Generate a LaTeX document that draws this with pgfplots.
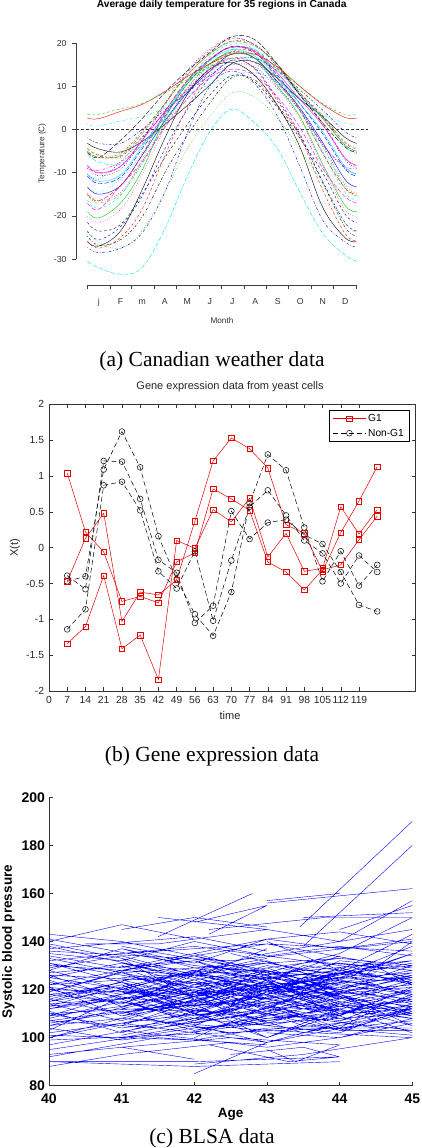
\documentclass[border=0pt]{standalone}
\usepackage{pgfplots}
\pgfplotsset{compat=1.18}
\usepackage{pgfplotstable}
\usepackage{fontspec}
\setmainfont{Liberation Sans}
\newfontfamily\capfont{Liberation Serif}
\newcommand\fs[1]{\fontsize{#1bp}{#1bp}\selectfont}
\definecolor{c0}{RGB}{0,0,0}
\definecolor{c1}{RGB}{255,0,0}
\definecolor{c2}{RGB}{0,205,0}
\definecolor{c3}{RGB}{0,0,255}
\definecolor{c4}{RGB}{0,230,230}
\definecolor{c5}{RGB}{255,0,255}
\tikzset{
 l1/.style={solid},
 l2/.style={dash pattern=on 2.5bp off 2.5bp},
 l3/.style={dash pattern=on 0.7bp off 1.8bp},
 l4/.style={dash pattern=on 0.7bp off 1.8bp on 2.5bp off 1.8bp},
 l5/.style={dash pattern=on 4.5bp off 2bp}}

\pgfplotstableread{
name 0 15 45 74 105 135 166 196 227 258 288 319 349 365
s1 -3.2 -4.5 -5.2 -2.8 1.2 5.5 10.3 15.3 15.6 11.8 7.0 3.0 -1.8 -3.2
s2 -4.5 -6.0 -6.2 -1.8 3.8 9.0 14.0 18.0 18.0 14.0 8.5 3.2 -3.0 -4.5
s3 -4.3 -5.8 -6.5 -3.0 1.5 7.0 12.8 17.5 17.5 13.5 8.0 2.8 -2.8 -4.3
s4 -1.9 -3.2 -3.2 0.0 4.5 8.5 12.5 16.0 16.5 13.5 9.2 4.5 -0.5 -1.9
s5 -5.7 -7.5 -8.0 -3.5 1.8 8.5 14.5 18.5 18.5 13.8 8.0 2.5 -3.8 -5.7
s6 -8.3 -10.0 -8.5 -2.5 4.2 11.0 16.2 19.2 18.2 13.0 7.0 1.0 -6.5 -8.3
s7 -21.5 -23.5 -22.0 -15.0 -6.5 1.0 8.0 12.5 11.0 5.0 -2.0 -10.0 -19.5 -21.5
s8 -14.7 -16.5 -14.5 -7.5 1.5 9.5 15.0 18.0 16.5 11.0 4.5 -3.5 -12.8 -14.7
s9 -15.3 -17.0 -15.0 -8.0 1.0 9.5 15.2 18.0 16.5 10.8 4.3 -4.0 -13.5 -15.3
s10 -10.8 -12.5 -11.0 -4.5 3.0 10.5 16.0 19.2 17.7 12.5 6.0 -1.0 -9.0 -10.8
s11 -10.3 -12.0 -10.5 -4.0 3.5 11.0 16.0 18.5 17.0 12.0 6.0 -0.5 -8.5 -10.3
s12 -8.4 -10.2 -8.6 -2.5 5.7 13.0 18.2 21.0 19.6 14.6 8.1 1.6 -6.6 -8.4
s13 -8.9 -10.7 -9.2 -2.6 6.0 13.5 18.6 21.2 19.6 14.5 8.0 1.2 -7.0 -8.9
s14 -5.0 -6.5 -5.5 -0.5 6.0 12.5 17.5 20.5 19.6 15.0 8.5 2.8 -3.5 -5.0
s15 -5.0 -6.5 -6.0 -1.0 6.0 12.5 17.5 20.3 19.3 15.0 8.5 2.5 -3.5 -5.0
s16 -13.3 -15.0 -13.0 -6.0 2.0 8.5 13.5 17.5 16.5 11.0 5.0 -3.0 -11.5 -13.3
s17 -16.4 -18.3 -15.2 -7.0 3.6 11.3 16.9 19.8 18.5 12.2 5.0 -5.2 -14.5 -16.4
s18 -20.0 -21.5 -18.5 -10.5 0.5 8.5 15.0 18.0 16.5 9.5 2.5 -8.5 -18.5 -20.0
s19 -24.7 -26.8 -25.5 -20.3 -10.0 -1.5 6.1 12.0 11.5 5.5 -1.5 -12.3 -22.5 -24.7
s20 -15.0 -16.5 -13.0 -6.0 4.0 11.3 16.3 19.0 18.0 11.7 4.5 -5.5 -13.5 -15.0
s21 -19.0 -20.5 -17.0 -9.5 2.5 10.5 15.3 17.7 16.5 10.0 3.0 -8.0 -17.5 -19.0
s22 -23.5 -25.5 -22.5 -15.5 -4.5 4.5 12.0 16.0 14.2 7.0 -1.0 -12.0 -21.5 -23.5
s23 -13.5 -14.5 -11.5 -5.5 3.5 10.5 14.5 16.5 15.5 10.5 4.5 -5.0 -12.5 -13.5
s24 -9.0 -9.5 -7.5 -3.5 3.5 9.5 13.5 16.5 15.5 10.5 5.0 -3.5 -8.5 -9.0
s25 -5.3 -6.5 -2.5 2.5 8.5 13.5 17.8 21.5 20.8 15.0 8.0 1.5 -4.0 -5.3
s26 2.6 2.5 4.2 5.8 8.8 12.2 15.2 17.4 17.4 14.4 10.0 5.8 2.8 2.6
s27 3.5 3.5 4.8 6.0 8.5 11.5 14.5 16.5 16.5 14.0 10.0 6.0 3.5 3.5
s28 -10.3 -11.5 -7.5 -2.0 4.0 9.0 12.5 15.0 14.5 9.5 4.5 -3.5 -9.0 -10.3
s29 1.2 0.8 2.0 3.0 5.0 8.0 10.5 12.5 13.2 11.0 7.5 3.5 1.5 1.2
s30 -17.0 -18.5 -13.0 -7.5 0.5 7.0 12.0 14.0 12.5 7.5 0.5 -9.0 -15.5 -17.0
s31 -26.0 -27.0 -23.5 -14.0 -2.0 8.0 14.0 15.5 12.5 5.5 -4.0 -18.0 -25.0 -26.0
s32 -25.8 -27.5 -25.0 -18.5 -6.0 5.0 13.5 16.5 14.0 6.5 -1.5 -14.0 -24.0 -25.8
s33 -23.8 -26.0 -27.5 -23.5 -14.5 -4.5 3.0 8.5 7.5 2.5 -4.5 -12.5 -21.5 -23.8
s34 -27.3 -28.5 -27.5 -24.0 -14.5 -1.0 10.0 13.5 10.5 3.0 -8.5 -21.0 -26.0 -27.3
s35 -30.5 -32.0 -33.5 -32.0 -23.0 -11.0 -0.5 4.7 1.5 -4.5 -14.5 -24.0 -29.0 -30.5
}\canraw
\pgfplotstabletranspose[colnames from=name,input colnames to=day]{\canT}{\canraw}

\pgfplotstableread{
t r1 r2 r3
7 1.04 -0.47 -1.34
14 0.22 0.13 -1.10
21 -0.06 0.48 -0.39
28 -0.75 -1.03 -1.41
35 -0.68 -0.62 -1.22
42 -0.77 -0.66 -1.84
49 -0.20 -0.45 0.10
56 -0.07 0.37 -0.01
63 0.82 1.21 0.53
70 0.68 1.53 0.36
77 0.52 1.38 0.69
84 -0.20 1.11 -0.13
91 -0.34 0.32 0.20
98 -0.59 0.20 -0.33
105 -0.31 -0.33 -0.29
112 -0.24 0.21 0.57
119 0.11 0.65 0.19
126 0.44 1.13 0.53
}\gone

\pgfplotstableread{
t b1 b2 b3
7 -0.47 -0.39 -1.14
14 -0.40 -0.58 -0.86
21 1.09 1.21 0.87
28 1.62 1.20 0.92
35 1.12 0.68 0.52
42 0.16 -0.17 -0.33
49 -0.44 -0.35 -0.57
56 -0.93 -1.05 -0.05
63 -1.23 -0.81 -1.02
70 -0.62 0.51 -0.18
77 0.62 0.12 0.57
84 1.30 0.35 0.80
91 1.08 0.39 0.45
98 0.28 0.18 0.10
105 -0.47 0.05 -0.08
112 -0.05 -0.34 -0.50
119 -0.53 -0.80 -0.11
126 -0.24 -0.89 -0.34
}\nongone

\begin{document}
\begin{tikzpicture}
\path[use as bounding box] (0,0) rectangle (422bp,1148bp);

% ---------------- (a) Canadian weather ----------------
\begin{axis}[
 at={(76bp,863bp)}, anchor=south west, scale only axis,
 width=292bp, height=262.6bp,
 xmin=-15.5, xmax=380.5, ymin=-36, ymax=24.8,
 axis x line*=bottom, axis y line*=left,
 axis line style={draw=none},
 clip=false,
 tick align=outside, major tick length=4.5bp,
 tick style={black!75, line width=0.5bp},
 xtick={0,31,59,90,120,151,181,212,243,273,304,334,365},
 xticklabels={,,,,,,,,,,,,},
 extra x ticks={15.5,45,74.5,105,135.5,166,196.5,227.5,258,288.5,319,349.5},
 extra x tick labels={j,F,m,A,M,J,J,A,S,O,N,D},
 extra x tick style={major tick length=0pt, tick label style={yshift=-9.7bp, text height=6.5bp, text depth=2bp}},
 ytick={-30,-20,-10,0,10,20},
 yticklabels={-30,-20,-10,0,10,20},
 tick label style={font=\fs{8.7}, text=black!80},
 y tick label style={xshift=-1.5bp},
 title={Average daily temperature for 35 regions in Canada},
 title style={font=\fs{10.2}\bfseries, inner sep=0pt, at={(0.499,1.0355)}, anchor=base},
 xlabel={Month}, xlabel style={font=\fs{8.2}, text=black!80, at={(0.5,-0.1474)}, anchor=base},
 ylabel={Temperature (C)}, ylabel style={font=\fs{8.2}, text=black!80, at={(-0.1154,0.5015)}, anchor=center},
 every axis plot/.append style={smooth, tension=0.6, line width=0.4bp},
]
\addplot[c0,l1] table[x=day,y=s1]{\canT};
\addplot[c1,l2] table[x=day,y=s2]{\canT};
\addplot[c2,l3] table[x=day,y=s3]{\canT};
\addplot[c3,l4] table[x=day,y=s4]{\canT};
\addplot[c4,l5] table[x=day,y=s5]{\canT};
\addplot[c5,l1] table[x=day,y=s6]{\canT};
\addplot[c0,l2] table[x=day,y=s7]{\canT};
\addplot[c1,l3] table[x=day,y=s8]{\canT};
\addplot[c2,l4] table[x=day,y=s9]{\canT};
\addplot[c3,l5] table[x=day,y=s10]{\canT};
\addplot[c4,l1] table[x=day,y=s11]{\canT};
\addplot[c5,l2] table[x=day,y=s12]{\canT};
\addplot[c0,l3] table[x=day,y=s13]{\canT};
\addplot[c1,l4] table[x=day,y=s14]{\canT};
\addplot[c2,l5] table[x=day,y=s15]{\canT};
\addplot[c3,l1] table[x=day,y=s16]{\canT};
\addplot[c4,l2] table[x=day,y=s17]{\canT};
\addplot[c5,l3] table[x=day,y=s18]{\canT};
\addplot[c0,l4] table[x=day,y=s19]{\canT};
\addplot[c1,l5] table[x=day,y=s20]{\canT};
\addplot[c2,l1] table[x=day,y=s21]{\canT};
\addplot[c3,l2] table[x=day,y=s22]{\canT};
\addplot[c4,l3] table[x=day,y=s23]{\canT};
\addplot[c5,l4] table[x=day,y=s24]{\canT};
\addplot[c0,l5] table[x=day,y=s25]{\canT};
\addplot[c1,l1] table[x=day,y=s26]{\canT};
\addplot[c2,l2] table[x=day,y=s27]{\canT};
\addplot[c3,l3] table[x=day,y=s28]{\canT};
\addplot[c4,l4] table[x=day,y=s29]{\canT};
\addplot[c5,l5] table[x=day,y=s30]{\canT};
\addplot[c0,l1] table[x=day,y=s31]{\canT};
\addplot[c1,l2] table[x=day,y=s32]{\canT};
\addplot[c2,l3] table[x=day,y=s33]{\canT};
\addplot[c3,l4] table[x=day,y=s34]{\canT};
\addplot[c4,l5] table[x=day,y=s35]{\canT};
\addplot[black!80, line width=0.5bp, dash pattern=on 2.5bp off 2.5bp] coordinates {(-15.5,0) (380.5,0)};
\draw[black!75, line width=0.5bp] (axis cs:0,-36) -- (axis cs:365,-36);
\draw[black!75, line width=0.5bp] (axis cs:-15.5,-30) -- (axis cs:-15.5,20);
\end{axis}
\node[anchor=base, font=\capfont\fs{21.5}] at (212bp,781bp) {(a) Canadian weather data};

% ---------------- (b) Gene expression ----------------
\begin{axis}[
 at={(49bp,457bp)}, anchor=south west, scale only axis,
 width=366bp, height=286.7bp,
 xmin=0, xmax=140.5, ymin=-2, ymax=2,
 xtick={0,7,...,119},
 xticklabels={0,7,14,21,28,35,42,49,56,63,70,77,84,91,98,105,112,119},
 ytick={-2,-1.5,-1,-0.5,0,0.5,1,1.5,2},
 yticklabels={-2,-1.5,-1,-0.5,0,0.5,1,1.5,2},
 tick align=inside, major tick length=3.5bp,
 axis line style={black!80, line width=0.5bp},
 tick style={black!80, line width=0.5bp},
 tick label style={font=\fs{10.3}, text=black!85},
 x tick label style={yshift=-1.5bp, inner xsep=0pt},
 y tick label style={xshift=-1.5bp},
 title={Gene expression data from yeast cells},
 title style={font=\fs{11}, text=black!85, at={(0.4945,1.0314)}, anchor=base},
 xlabel={time}, xlabel style={font=\fs{11}, text=black!85, at={(0.4945,-0.0977)}, anchor=base},
 ylabel={X(t)}, ylabel style={font=\fs{11}, text=black!85, at={(-0.0929,0.4988)}, anchor=center},
 legend style={at={(0.984,0.980)}, anchor=north east, font=\fs{10.2}, draw=black, line width=0.6bp,
   inner xsep=3bp, inner ysep=2bp, row sep=2bp, cells={anchor=west}},
 legend image code/.code={\draw[mark repeat=2,mark phase=2,#1] plot coordinates {(0bp,0bp) (16.5bp,0bp) (33bp,0bp)};},
 redg/.style={red!90!black, line width=0.5bp, mark=square, mark size=2.7bp, mark options={solid, line width=0.5bp}},
 blkg/.style={black, line width=0.5bp, dash pattern=on 5bp off 3bp, mark=o, mark size=2.9bp, mark options={solid, line width=0.5bp}},
]
\addplot[redg] table[x=t,y=r1]{\gone};
\addlegendentry{G1}
\addplot[blkg] table[x=t,y=b1]{\nongone};
\addlegendentry{Non-G1}
\addplot[redg, forget plot] table[x=t,y=r2]{\gone};
\addplot[redg, forget plot] table[x=t,y=r3]{\gone};
\addplot[blkg, forget plot] table[x=t,y=b2]{\nongone};
\addplot[blkg, forget plot] table[x=t,y=b3]{\nongone};
\end{axis}
\node[anchor=base, font=\capfont\fs{21.5}] at (212bp,386.3bp) {(b) Gene expression data};

% ---------------- (c) BLSA ----------------
\begin{axis}[
 at={(49bp,62.3bp)}, anchor=south west, scale only axis,
 width=363.3bp, height=288.4bp,
 xmin=40, xmax=45, ymin=80, ymax=200,
 axis x line*=bottom, axis y line*=left,
 axis line style={black!80, line width=0.6bp},
 tick align=inside, major tick length=3.5bp,
 tick style={black!80, line width=0.6bp},
 xtick={40,41,42,43,44,45}, xticklabels={40,41,42,43,44,45},
 ytick={80,100,120,140,160,180,200}, yticklabels={80,100,120,140,160,180,200},
 tick label style={font=\fs{14}\bfseries},
 x tick label style={yshift=-5bp},
 y tick label style={xshift=-0.5bp},
 xlabel={Age}, xlabel style={font=\fs{13.5}\bfseries, at={(0.5,-0.111)}, anchor=base},
 ylabel={Systolic blood pressure}, ylabel style={font=\fs{13.5}\bfseries, at={(-0.112,0.5)}, anchor=center},
 unbounded coords=jump,
]
\addplot[c3, line width=0.4bp] table[row sep=\\] {
x y\\
40 120\\42 118\\45 125\\nan nan\\
40 110\\43 115\\45 108\\nan nan\\
40 130\\42.5 125\\45 132\\nan nan\\
40 143\\41 140\\43 128\\nan nan\\
40 141\\42 130\\44 125\\nan nan\\
40 100\\41.5 112\\43.5 118\\nan nan\\
40 90\\42 90\\44 92\\nan nan\\
40 88\\41 93\\42.5 98\\nan nan\\
40 95\\42 104\\45 110\\nan nan\\
40 105\\41 108\\43 103\\45 100\\nan nan\\
40 115\\41.2 125\\42.7 110\\nan nan\\
40 125\\41.5 118\\43 130\\nan nan\\
40 135\\41 132\\42 140\\nan nan\\
40 112\\42 120\\44 112\\nan nan\\
40 118\\43 108\\45 116\\nan nan\\
40 128\\41 120\\42 128\\44 122\\nan nan\\
40 138\\41.5 128\\nan nan\\
40 132\\42 138\\44 130\\nan nan\\
40 102\\42 110\\43 100\\nan nan\\
40 108\\41 115\\42 107\\nan nan\\
40 122\\42 126\\43.5 118\\45 122\\nan nan\\
40 116\\41 110\\42.5 122\\nan nan\\
40 126\\44 120\\nan nan\\
40 92\\41.5 100\\43 97\\nan nan\\
40 99\\44 104\\nan nan\\
40 136\\42.5 132\\45 140\\nan nan\\
40 119\\41.3 130\\43 125\\nan nan\\
40 113\\40.8 120\\42 116\\nan nan\\
40 106\\42 115\\44.5 110\\nan nan\\
40 131\\41 126\\43 116\\nan nan\\
41 145\\42 150\\43 146\\nan nan\\
40.5 139\\41.5 139\\43 145\\nan nan\\
41 120\\43 135\\45 145\\nan nan\\
41 105\\42.5 120\\44.5 118\\nan nan\\
41 112\\43 110\\45 103\\nan nan\\
41 130\\42 122\\44 128\\nan nan\\
41 100\\42 105\\43 98\\nan nan\\
41 125\\43 128\\44.5 112\\nan nan\\
41.2 116\\42.2 130\\44 120\\nan nan\\
41 138\\42.5 130\\44 133\\nan nan\\
41.5 150\\43 145\\44 140\\nan nan\\
41.5 142\\42.8 160\\nan nan\\
41 122\\42 112\\43 118\\44 108\\nan nan\\
41.3 108\\42.5 102\\44 106\\nan nan\\
41 96\\42.5 100\\44 97\\nan nan\\
41.7 128\\43 122\\45 127\\nan nan\\
41.5 118\\42.5 126\\44 115\\nan nan\\
41 135\\43 139\\45 136\\nan nan\\
42 85\\43 98\\44.2 105\\nan nan\\
42 89\\43.5 93\\45 100\\nan nan\\
42 148\\43 155\\nan nan\\
42 120\\43 112\\44 124\\45 119\\nan nan\\
42 110\\43.5 125\\45 130\\nan nan\\
42 130\\43 127\\44 135\\nan nan\\
42 103\\43 108\\45 112\\nan nan\\
42 138\\43.5 132\\45 128\\nan nan\\
42 115\\42.8 122\\44 118\\nan nan\\
42 125\\43.5 112\\45 115\\nan nan\\
42.2 97\\43.3 90\\44 92\\nan nan\\
42 107\\43 119\\44 113\\nan nan\\
43 157\\44 160\\nan nan\\
43.45 146\\45 190\\nan nan\\
43.5 138\\45 180\\nan nan\\
43 130\\44 124\\45 135\\nan nan\\
43 110\\44 118\\45 105\\nan nan\\
43 120\\44.5 130\\nan nan\\
43 102\\44 100\\45 108\\nan nan\\
43 125\\44 110\\45 120\\nan nan\\
43 135\\45 145\\nan nan\\
43.3 116\\44.3 106\\45 112\\nan nan\\
43 100\\44.5 115\\nan nan\\
44 120\\45 130\\nan nan\\
44 112\\45 102\\nan nan\\
44 130\\45 125\\nan nan\\
44 140\\45 157\\nan nan\\
44 107\\45 118\\nan nan\\
44 135\\45 150\\nan nan\\
44 100\\45 106\\nan nan\\
43.5 150\\45 152\\nan nan\\
44.3 125\\45 140\\nan nan\\
44 118\\45 110\\nan nan\\
40 97\\42 108\\44 102\\45 113\\nan nan\\
40 123\\41 118\\42 124\\43 114\\44 119\\nan nan\\
40 111\\41 102\\42 111\\nan nan\\
40 133\\42 121\\44 128\\45 123\\nan nan\\
40 117\\41 123\\42 113\\43 124\\44 116\\nan nan\\
40 127\\42 132\\43 121\\nan nan\\
40 104\\41 99\\43 106\\nan nan\\
40 109\\42 127\\43 133\\nan nan\\
40 121\\42 113\\45 128\\nan nan\\
40 114\\43 121\\45 131\\nan nan\\
41 115\\42 108\\43 112\\44 127\\45 132\\nan nan\\
41 128\\42 134\\43 126\\nan nan\\
41 110\\42.3 117\\43.5 105\\45 101\\nan nan\\
41.6 132\\43 139\\44.5 131\\nan nan\\
42 119\\43 126\\44 131\\45 128\\nan nan\\
42 112\\43 105\\44 110\\45 117\\nan nan\\
42 128\\43 116\\44 121\\45 114\\nan nan\\
42 100\\43 113\\44 108\\nan nan\\
42.5 135\\43.5 128\\45 124\\nan nan\\
42.5 108\\43.5 117\\45 121\\nan nan\\
40 140\\41 147\\42 141\\nan nan\\
40 90\\42 88\\44 90\\nan nan\\
40 93\\41 96\\42 91\\nan nan\\
43 95\\43.4 90\\44 97\\nan nan\\
42.5 93\\43.5 96\\44 92\\nan nan\\
41 103\\43 96\\44 100\\nan nan\\
40 129\\41 134\\42 126\\43 131\\nan nan\\
40 107\\41.5 104\\43 111\\44.5 104\\nan nan\\
41 118\\42 121\\43 113\\44 123\\45 115\\nan nan\\
41 133\\42 116\\43 122\\nan nan\\
42 140\\43 134\\44 138\\45 134\\nan nan\\
40 124\\41 113\\42 119\\43 109\\nan nan\\
40 101\\42 99\\43 104\\45 104\\nan nan\\
40 137\\42 142\\43 136\\nan nan\\
42.2 145\\43.8 150\\45 150\\nan nan\\
42 105\\43 117\\44 125\\45 135\\nan nan\\
43 140\\44 128\\45 143\\nan nan\\
41 127\\43 131\\44 126\\45 138\\nan nan\\
40 118\\41 121\\42.5 105\\43.5 109\\nan nan\\
43.5 125\\44.5 122\\45 126\\nan nan\\
43 156\\45 162\\nan nan\\
42.2 143\\43 155\\nan nan\\
44 145\\45 155\\nan nan\\
40 119\\41 127\\42 118\\43 123\\44 114\\45 120\\nan nan\\
40 112\\41 118\\42 123\\43 116\\44 121\\45 126\\nan nan\\
40 126\\41 116\\42 121\\43 128\\44 117\\45 111\\nan nan\\
40 116\\41 123\\42 111\\43 119\\44 129\\45 122\\nan nan\\
40 109\\41 113\\42 120\\43 112\\44 107\\45 114\\nan nan\\
40 131\\41 123\\42 117\\43 125\\44 120\\45 127\\nan nan\\
41 112\\42 119\\43 126\\44 116\\nan nan\\
41 124\\42 117\\43 110\\44 118\\nan nan\\
41 109\\42 114\\43 120\\44 111\\nan nan\\
41 121\\42 128\\43 119\\44 124\\nan nan\\
42 117\\43 123\\44 113\\45 108\\nan nan\\
42 123\\43 111\\44 116\\45 124\\nan nan\\
42 109\\43 115\\44 122\\45 118\\nan nan\\
40 114\\41 107\\42 116\\43 106\\nan nan\\
40 122\\41 128\\42 132\\43 124\\nan nan\\
41.5 113\\42.5 118\\43.5 121\\44.5 112\\nan nan\\
40 125\\41 131\\42 124\\43 129\\44 133\\45 130\\nan nan\\
40 107\\41 111\\42 103\\43 109\\44 115\\45 110\\nan nan\\
40 134\\41 129\\42 135\\43 127\\44 122\\nan nan\\
40 103\\41 117\\42 109\\43 114\\44 104\\45 107\\nan nan\\
40 120\\41 114\\42 126\\43 120\\44 127\\45 117\\nan nan\\
40 115\\41 120\\42 114\\43 100\\44 112\\nan nan\\
41 116\\42 124\\43 129\\44 119\\45 125\\nan nan\\
41 131\\42 125\\43 118\\44 132\\45 129\\nan nan\\
41 106\\42 112\\43 107\\44 113\\45 119\\nan nan\\
41 119\\42 110\\43 124\\44 117\\45 113\\nan nan\\
41.5 125\\42.5 114\\43.5 130\\44.5 126\\nan nan\\
41.5 108\\42.5 111\\43.5 102\\44.5 108\\nan nan\\
42 132\\43 124\\44 109\\45 121\\nan nan\\
42 114\\43 128\\44 120\\45 127\\nan nan\\
42 126\\43 120\\44 126\\45 131\\nan nan\\
42 102\\43 110\\44 103\\45 103\\nan nan\\
42.5 121\\43.5 114\\44.5 119\\nan nan\\
42.5 115\\43.5 123\\44.5 127\\nan nan\\
43 118\\44 125\\45 123\\nan nan\\
43 106\\44 114\\45 109\\nan nan\\
43 127\\44 119\\45 116\\nan nan\\
43 113\\44 103\\45 111\\nan nan\\
43.5 119\\44.5 109\\45 105\\nan nan\\
40 110\\41 104\\42 108\\43 119\\44 124\\45 118\\nan nan\\
40 128\\41 137\\42 129\\43 124\\44 134\\nan nan\\
40 100\\41 106\\42 102\\43 98\\44 106\\45 112\\nan nan\\
40 139\\41 133\\42 125\\43 137\\nan nan\\
41 101\\42 107\\43 115\\44 109\\nan nan\\
41 137\\42 131\\43 141\\44 137\\45 141\\nan nan\\
42 135\\43 141\\44 144\\45 139\\nan nan\\
40 121\\41 109\\42 117\\43 121\\44 110\\45 116\\nan nan\\
40 113\\41 116\\42 106\\43 111\\44 120\\45 112\\nan nan\\
41 114\\41.7 121\\42.4 112\\43.1 117\\43.8 123\\nan nan\\
41.2 127\\42 119\\42.8 126\\43.6 116\\44.4 121\\nan nan\\
40 105\\40.7 110\\41.4 116\\42.1 109\\42.8 114\\nan nan\\
42.6 105\\43.2 112\\43.8 107\\44.4 114\\45 109\\nan nan\\
42.3 128\\43 132\\43.7 125\\44.4 131\\45 122\\nan nan\\
40.4 118\\41 122\\41.6 114\\42.2 119\\nan nan\\
43.7 112\\44.3 117\\45 123\\nan nan\\
44 104\\44.5 112\\45 113\\nan nan\\
};
\end{axis}
\node[anchor=base, font=\capfont\fs{21.5}] at (212bp,5bp) {(c) BLSA data};
\end{tikzpicture}
\end{document}
